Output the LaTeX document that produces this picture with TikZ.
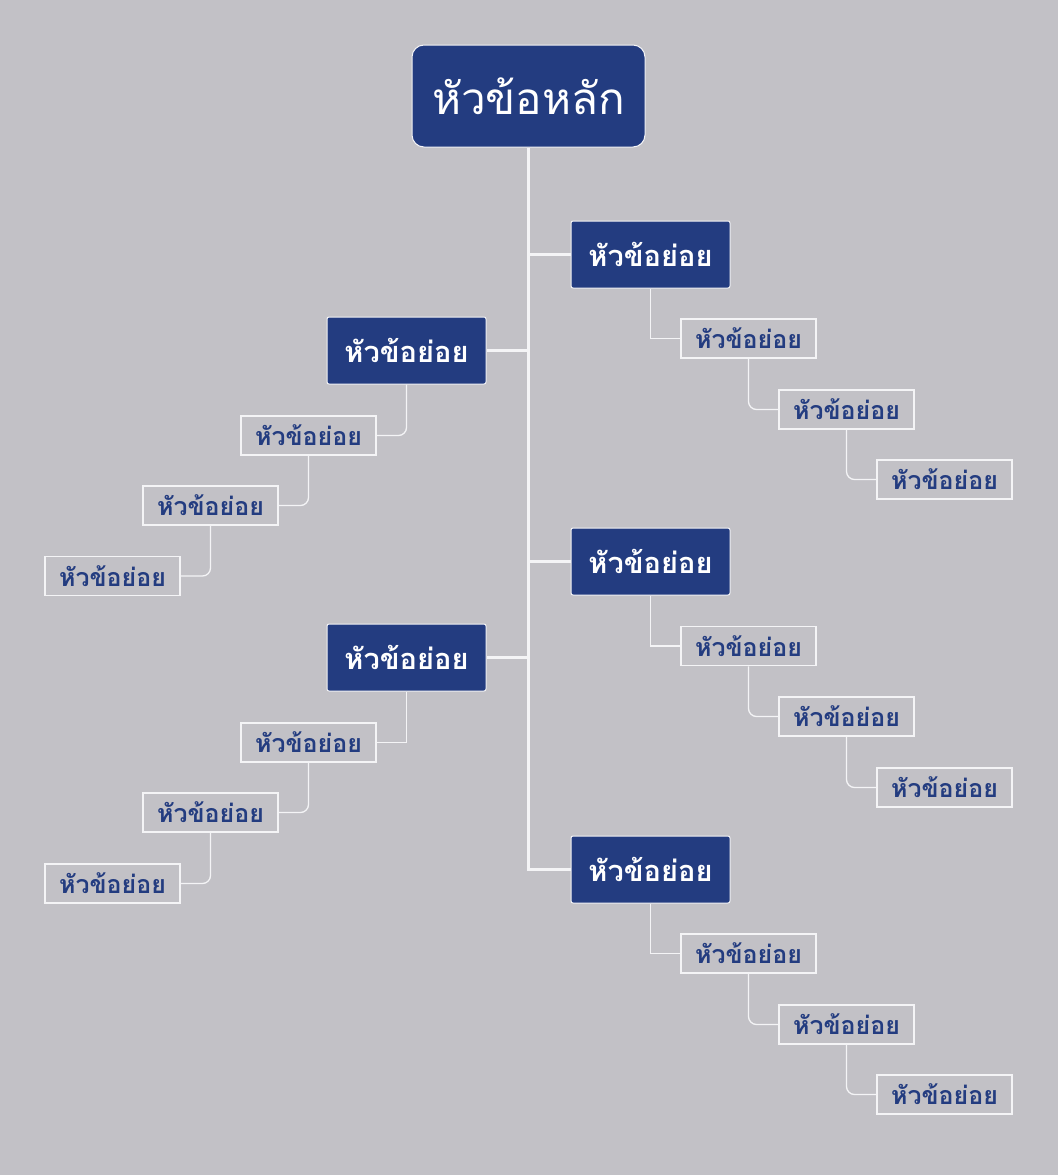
\documentclass[tikz,border=0pt]{standalone}
\usepackage{fontspec}
\newfontfamily\thaifont[Script=Thai]{Loma}
\definecolor{bgcolor}{HTML}{C2C1C6}
\definecolor{topicblue}{HTML}{233C80}
\definecolor{linewhite}{HTML}{F4F4F6}
\tikzset{
  maintopic/.style={draw=linewhite, line width=1pt, fill=topicblue, rounded corners=12pt,
    minimum width=233pt, minimum height=102pt, inner sep=0pt, text=white,
    font=\thaifont\fontsize{44}{52}\selectfont},
  subtopic/.style={draw=linewhite, line width=1pt, fill=topicblue, rounded corners=2pt,
    minimum width=159pt, minimum height=67pt, inner sep=0pt, text=white,
    font=\thaifont\bfseries\fontsize{29}{34}\selectfont},
  leaftopic/.style={draw=linewhite, line width=1.5pt,
    minimum width=135pt, minimum height=39pt, inner sep=0pt, text=topicblue,
    font=\thaifont\bfseries\fontsize{25}{30}\selectfont},
  trunk/.style={draw=linewhite, line width=2.5pt},
  twig/.style={draw=linewhite, line width=1.3pt},
}

\begin{document}
\begin{tikzpicture}[x=1pt, y=-1pt]
        % Background
        \fill[bgcolor] (0,0) rectangle (1058,1175);
        \useasboundingbox (0,0) rectangle (1058,1175);

        % Main topic
        \node[maintopic] (root) at (528.5,96) {หัวข้อหลัก};

        % Subtopics
        \node[subtopic] (r1) at (650.5,254.5) {หัวข้อย่อย};
        \node[subtopic] (l1) at (406.5,350.5) {หัวข้อย่อย};
        \node[subtopic] (r2) at (650.5,561.5) {หัวข้อย่อย};
        \node[subtopic] (l2) at (406.5,657.5) {หัวข้อย่อย};
        \node[subtopic] (r3) at (650.5,869.5) {หัวข้อย่อย};

        % Trunk and branches
        \draw[trunk] (root.south) -- (root.south |- r3.west) -- (r3.west);
        \draw[trunk] (r1.west) -- (root.south |- r1.west);
        \draw[trunk] (l1.east) -- (root.south |- l1.east);
        \draw[trunk] (r2.west) -- (root.south |- r2.west);
        \draw[trunk] (l2.east) -- (root.south |- l2.east);

        % Leaves of first right subtopic
        \node[leaftopic] (r1a) at (748.5,338.5) {หัวข้อย่อย};
        \node[leaftopic] (r1b) at (846.5,409.5) {หัวข้อย่อย};
        \node[leaftopic] (r1c) at (944.5,479.5) {หัวข้อย่อย};
        \draw[twig] (r1.south) |- (r1a.west);
        \draw[twig, rounded corners=8pt] (r1a.south) |- (r1b.west);
        \draw[twig, rounded corners=8pt] (r1b.south) |- (r1c.west);

        % Leaves of first left subtopic
        \node[leaftopic] (l1a) at (308.5,435.5) {หัวข้อย่อย};
        \node[leaftopic] (l1b) at (210.5,505.5) {หัวข้อย่อย};
        \node[leaftopic] (l1c) at (112.5,576) {หัวข้อย่อย};
        \draw[twig, rounded corners=8pt] (l1.south) |- (l1a.east);
        \draw[twig, rounded corners=8pt] (l1a.south) |- (l1b.east);
        \draw[twig, rounded corners=8pt] (l1b.south) |- (l1c.east);

        % Leaves of second right subtopic
        \node[leaftopic] (r2a) at (748.5,646) {หัวข้อย่อย};
        \node[leaftopic] (r2b) at (846.5,716.5) {หัวข้อย่อย};
        \node[leaftopic] (r2c) at (944.5,787.5) {หัวข้อย่อย};
        \draw[twig] (r2.south) |- (r2a.west);
        \draw[twig, rounded corners=8pt] (r2a.south) |- (r2b.west);
        \draw[twig, rounded corners=8pt] (r2b.south) |- (r2c.west);

        % Leaves of second left subtopic
        \node[leaftopic] (l2a) at (308.5,742.5) {หัวข้อย่อย};
        \node[leaftopic] (l2b) at (210.5,812.5) {หัวข้อย่อย};
        \node[leaftopic] (l2c) at (112.5,883.5) {หัวข้อย่อย};
        \draw[twig] (l2.south) |- (l2a.east);
        \draw[twig, rounded corners=8pt] (l2a.south) |- (l2b.east);
        \draw[twig, rounded corners=8pt] (l2b.south) |- (l2c.east);

        % Leaves of third right subtopic
        \node[leaftopic] (r3a) at (748.5,953.5) {หัวข้อย่อย};
        \node[leaftopic] (r3b) at (846.5,1024.5) {หัวข้อย่อย};
        \node[leaftopic] (r3c) at (944.5,1094.5) {หัวข้อย่อย};
        \draw[twig] (r3.south) |- (r3a.west);
        \draw[twig, rounded corners=8pt] (r3a.south) |- (r3b.west);
        \draw[twig, rounded corners=8pt] (r3b.south) |- (r3c.west);
    \end{tikzpicture}
\end{document}
